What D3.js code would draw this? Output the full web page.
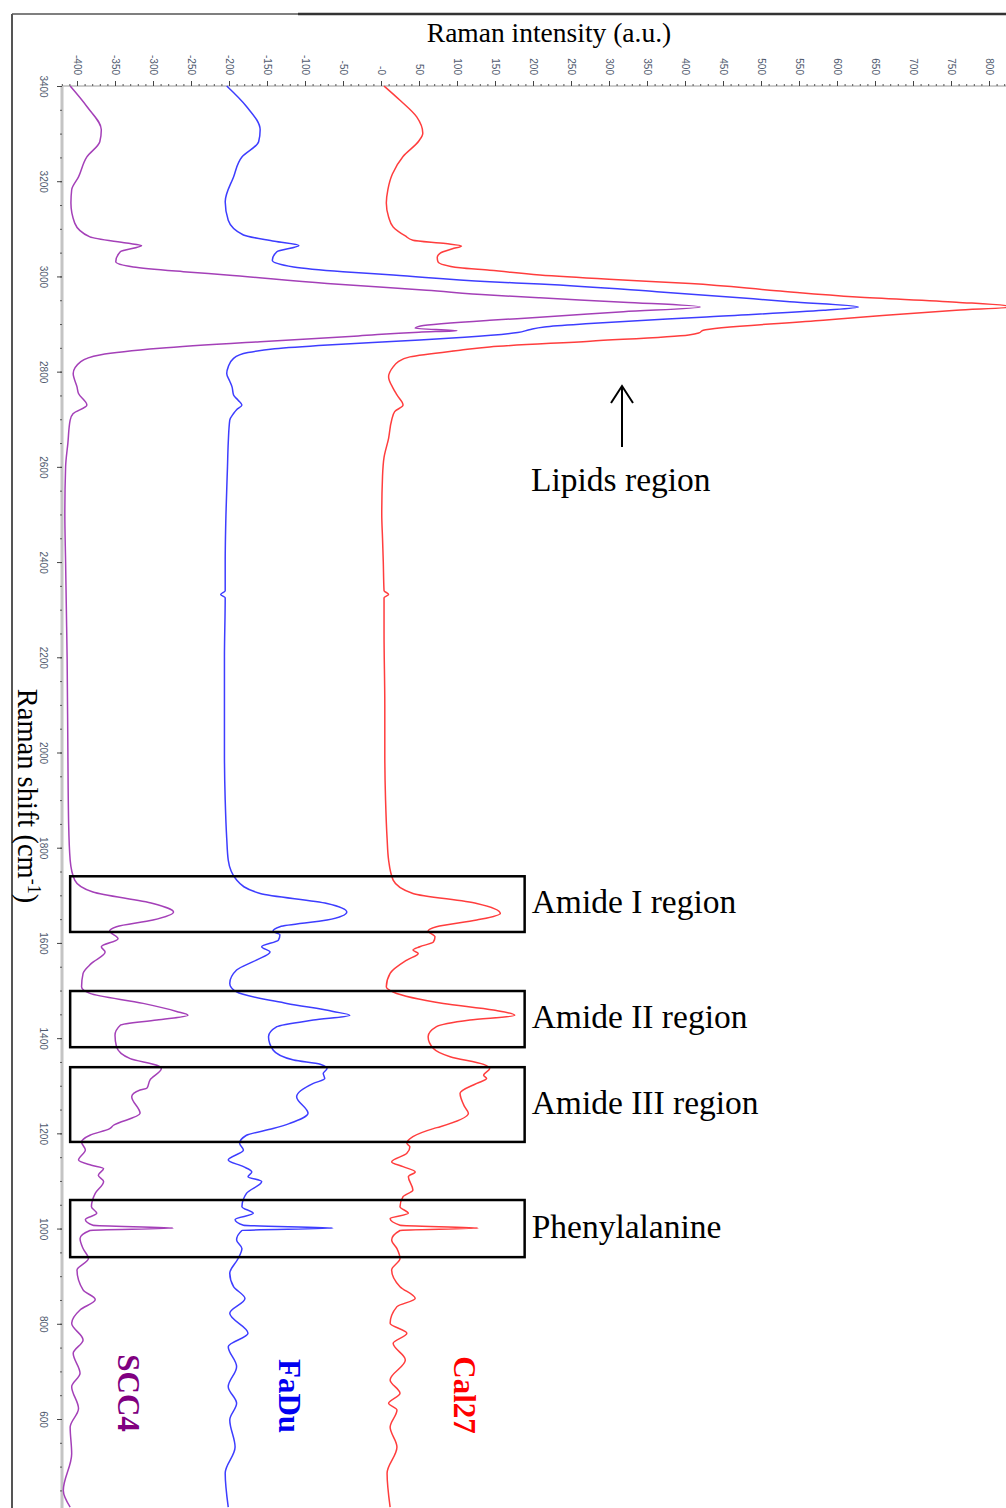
<!DOCTYPE html>
<html>
<head>
<meta charset="utf-8">
<script src="https://cdn.jsdelivr.net/npm/d3@7"></script>
<style>
  body { margin: 0; background: #fff; }
  svg { display: block; }
</style>
</head>
<body>
<div id="chart"></div>
<script>
// Raman spectra drawn on their side: shift runs down the page, intensity across

const intensityTicks = d3.range(-400, 801, 50);
const intensityTickLabels = ["-400", "-350", "-300", "-250", "-200", "-150", "-100", "-50", "-0",
  "50", "100", "150", "200", "250", "300", "350", "400", "450", "500", "550", "600", "650", "700", "750", "800"];
const shiftTicks = [3400, 3200, 3000, 2800, 2600, 2400, 2200, 2000, 1800, 1600, 1400, 1200, 1000, 800, 600];

// [Raman shift (cm-1), plotted intensity (a.u.)]
const scc4 = [
  [3400, -409], [3357, -387], [3308, -368], [3283, -370], [3251, -387], [3209, -398], [3182, -407],
  [3154, -408], [3112, -403], [3083, -383], [3070, -335], [3065, -315], [3052, -343], [3031, -349],
  [3020, -326], [3010, -260], [3003, -203], [2985, -71], [2971, 60], [2961, 143], [2955, 209],
  [2946, 319], [2936, 420], [2926, 319], [2914, 209], [2908, 143], [2896, 52], [2891, 45], [2886, 100],
  [2883, 50], [2875, -30], [2863, -159], [2849, -291], [2835, -370], [2821, -395], [2796, -405],
  [2768, -400], [2754, -398], [2730, -387], [2712, -405], [2698, -409], [2650, -412], [2600, -415],
  [2500, -416], [2400, -415], [2300, -414], [2200, -413], [2000, -412], [1850, -411], [1774, -409],
  [1732, -403], [1707, -379], [1683, -300], [1665, -273], [1648, -300], [1634, -348], [1625, -357],
  [1609, -346], [1592, -368], [1581, -363], [1557, -381], [1536, -392], [1508, -394], [1494, -383],
  [1473, -313], [1456, -269], [1448, -254], [1438, -295], [1427, -343], [1406, -350], [1382, -348],
  [1357, -330], [1343, -295], [1336, -289], [1312, -304], [1295, -308], [1291, -317], [1277, -328],
  [1242, -317], [1217, -352], [1210, -357], [1196, -383], [1182, -394], [1165, -389], [1144, -398],
  [1133, -381], [1126, -365], [1112, -372], [1099, -365], [1074, -376], [1046, -381], [1032, -374],
  [1019, -389], [1007, -379], [1001, -273], [996, -383], [979, -396], [958, -392], [937, -385],
  [913, -400], [871, -392], [851, -376], [829, -396], [801, -407], [766, -392], [738, -405],
  [696, -396], [668, -407], [622, -398], [583, -409], [527, -407], [450, -418], [415, -409]
];

const fadu = [
  [3400, -203], [3357, -177], [3308, -159], [3283, -161], [3251, -183], [3209, -194], [3157, -205],
  [3118, -201], [3087, -181], [3074, -140], [3065, -108], [3052, -137], [3034, -143], [3020, -115],
  [3010, -50], [3003, 16], [2989, 143], [2984, 209], [2968, 363], [2947, 538], [2936, 628],
  [2929, 582], [2915, 428], [2901, 275], [2894, 215], [2888, 195], [2882, 180], [2872, 110],
  [2864, 20], [2856, -70], [2848, -140], [2840, -175], [2828, -194], [2810, -201], [2796, -203],
  [2780, -199], [2768, -196], [2751, -194], [2740, -188], [2730, -183], [2720, -190], [2712, -194],
  [2698, -199], [2650, -201], [2600, -202], [2500, -204], [2400, -205], [2340, -205], [2332, -211],
  [2325, -205], [2200, -206], [2000, -206], [1900, -205], [1820, -203], [1774, -201],
  [1732, -190], [1704, -159], [1683, -71], [1665, -45], [1648, -71], [1634, -133], [1625, -142],
  [1617, -133], [1606, -135], [1592, -157], [1581, -146], [1564, -164], [1543, -190], [1515, -199],
  [1497, -190], [1473, -124], [1456, -63], [1448, -41], [1438, -89], [1424, -137], [1403, -148],
  [1375, -142], [1354, -115], [1345, -80], [1336, -71], [1326, -76], [1315, -74], [1305, -89],
  [1277, -111], [1242, -96], [1221, -120], [1210, -142], [1196, -177], [1179, -186], [1165, -181],
  [1144, -201], [1130, -181], [1119, -170], [1109, -175], [1099, -157], [1074, -177], [1046, -183],
  [1032, -168], [1019, -192], [1007, -181], [1001, -63], [996, -183], [976, -190], [958, -183],
  [937, -188], [906, -199], [878, -194], [853, -179], [822, -199], [780, -175], [752, -201],
  [710, -190], [668, -201], [633, -190], [598, -199], [541, -192], [486, -205], [415, -201]
];

const cal27 = [
  [3400, 4], [3370, 25], [3335, 47], [3301, 55], [3285, 50], [3252, 29], [3215, 15], [3182, 9],
  [3154, 7], [3125, 10], [3104, 16], [3085, 32], [3076, 42], [3069, 85], [3064, 106], [3058, 94],
  [3049, 78], [3040, 74], [3031, 75], [3018, 104], [3013, 143], [3003, 209], [2994, 300], [2985, 407],
  [2970, 520], [2957, 626], [2946, 757], [2936, 832], [2929, 757], [2918, 660], [2908, 582],
  [2887, 424], [2881, 418], [2877, 405], [2864, 275], [2852, 143], [2845, 104], [2831, 38],
  [2820, 22], [2810, 16], [2789, 10], [2765, 16], [2751, 21], [2730, 29], [2716, 18], [2698, 14],
  [2660, 10], [2620, 4], [2580, 2], [2500, 1], [2450, 2], [2400, 3], [2340, 4], [2332, 10],
  [2325, 4], [2250, 4], [2100, 5], [2000, 5], [1900, 6], [1820, 8], [1774, 10],
  [1732, 16], [1704, 42], [1683, 126], [1662, 157], [1648, 126], [1634, 73], [1625, 62],
  [1613, 71], [1602, 69], [1592, 51], [1585, 42], [1578, 49], [1564, 34], [1536, 12], [1508, 7],
  [1497, 16], [1473, 82], [1459, 148], [1448, 176], [1438, 117], [1424, 73], [1403, 62],
  [1378, 69], [1361, 91], [1345, 135], [1336, 143], [1322, 135], [1315, 139], [1305, 126],
  [1284, 104], [1256, 110], [1242, 115], [1214, 78], [1210, 69], [1193, 42], [1179, 34],
  [1172, 38], [1158, 34], [1140, 14], [1130, 29], [1119, 45], [1109, 36], [1081, 42], [1067, 29],
  [1046, 25], [1032, 36], [1021, 12], [1007, 25], [1001, 128], [996, 25], [976, 14], [958, 21],
  [937, 25], [913, 14], [878, 25], [853, 45], [836, 21], [801, 12], [780, 34], [759, 16],
  [724, 32], [682, 12], [654, 25], [633, 10], [619, 21], [583, 12], [541, 21], [486, 8], [415, 12]
];

const regionNames = ["Amide I region", "Amide II region", "Amide III region", "Phenylalanine"];
const regionFrom = [1740, 1499, 1339, 1060];
const regionTo = [1623, 1381, 1182, 940];
const regionLow = -409;
const regionHigh = 189;

let w = 1006;
let h = 1508;

let svg = d3.select("#chart")
            .append("svg")
            .attr("width", w)
            .attr("height", h);

let x = d3.scaleLinear().domain([-400, 800]).range([77, 989]);
let y = d3.scaleLinear().domain([3400, 600]).range([86, 1419]);

// outer frame
svg.append("line").attr("x1", 12).attr("y1", 14).attr("x2", 298).attr("y2", 14)
    .attr("stroke", "#555").attr("stroke-width", 1.5);
svg.append("line").attr("x1", 298).attr("y1", 14).attr("x2", w).attr("y2", 14)
    .attr("stroke", "#333").attr("stroke-width", 2.5);
svg.append("line").attr("x1", 12).attr("y1", 14).attr("x2", 12).attr("y2", h)
    .attr("stroke", "#555").attr("stroke-width", 2);

// axis lines
svg.append("line").attr("x1", 62).attr("y1", 86).attr("x2", w).attr("y2", 86)
    .attr("stroke", "#bbb").attr("stroke-width", 1.5);
svg.append("line").attr("x1", 62).attr("y1", 86).attr("x2", 62).attr("y2", h)
    .attr("stroke", "#c4c4c4").attr("stroke-width", 3);

// top (intensity) axis
svg.append("g")
    .attr("transform", "translate(0,86)")
    .call(d3.axisTop(x).tickValues(d3.range(-420, 830, 10)).tickSize(2).tickFormat(""))
    .call(g => g.select(".domain").remove())
    .call(g => g.selectAll("line").attr("stroke", "#555"));

svg.append("g")
    .attr("transform", "translate(0,86)")
    .call(d3.axisTop(x).tickValues(intensityTicks).tickSize(5).tickFormat((d, i) => intensityTickLabels[i]))
    .call(g => g.select(".domain").remove())
    .call(g => g.selectAll("line").attr("stroke", "#444"))
    .call(g => g.selectAll("text")
        .attr("transform", "rotate(90)")
        .attr("x", -11)
        .attr("y", 0)
        .attr("dy", null)
        .attr("text-anchor", "end")
        .attr("dominant-baseline", "central")
        .attr("fill", "#4f5a6e")
        .style("font", "10px 'Liberation Sans', Arial, sans-serif"));

// left (shift) axis
svg.append("g")
    .attr("transform", "translate(62,0)")
    .call(d3.axisLeft(y).tickValues(d3.range(3400, 400, -50)).tickSize(2).tickFormat(""))
    .call(g => g.select(".domain").remove())
    .call(g => g.selectAll("line").attr("stroke", "#555"));

svg.append("g")
    .attr("transform", "translate(62,0)")
    .call(d3.axisLeft(y).tickValues(shiftTicks).tickSize(5).tickFormat(d3.format("d")))
    .call(g => g.select(".domain").remove())
    .call(g => g.selectAll("line").attr("stroke", "#444"))
    .call(g => g.selectAll("text")
        .attr("transform", "rotate(90)")
        .attr("x", 0)
        .attr("y", 19)
        .attr("dy", null)
        .attr("text-anchor", "middle")
        .attr("dominant-baseline", "central")
        .attr("fill", "#4f5a6e")
        .style("font", "10px 'Liberation Sans', Arial, sans-serif"));

// axis titles
svg.append("text")
    .text("Raman intensity (a.u.)")
    .attr("x", 549)
    .attr("y", 42)
    .attr("text-anchor", "middle")
    .style("font", "27.5px 'Liberation Serif', 'Times New Roman', serif");

let yTitle = svg.append("text")
    .attr("transform", "translate(18,796) rotate(90)")
    .attr("text-anchor", "middle")
    .style("font", "28.5px 'Liberation Serif', 'Times New Roman', serif");
yTitle.append("tspan").text("Raman shift (cm");
yTitle.append("tspan").text("-1").attr("dy", -10).style("font-size", "18px");
yTitle.append("tspan").text(")").attr("dy", 10);

// spectra
let line = d3.line()
    .x(d => x(d[1]))
    .y(d => y(d[0]))
    .curve(d3.curveMonotoneY);

let series = [
    {name: "SCC4", data: scc4, stroke: "#a440b8", label: "#800080", lx: 128, ly: 1393},
    {name: "FaDu", data: fadu, stroke: "#3d3dff", label: "#0000f0", lx: 289, ly: 1396},
    {name: "Cal27", data: cal27, stroke: "#ff3d3d", label: "#ff0000", lx: 464, ly: 1395}
];

series.forEach(s => {
    svg.append("path")
        .datum(s.data)
        .attr("d", line)
        .attr("fill", "none")
        .attr("stroke", s.stroke)
        .attr("stroke-width", 1.5);

    svg.append("text")
        .text(s.name)
        .attr("transform", "translate(" + s.lx + "," + s.ly + ") rotate(90)")
        .attr("text-anchor", "middle")
        .attr("dominant-baseline", "central")
        .attr("fill", s.label)
        .style("font", "bold 31px 'Liberation Serif', 'Times New Roman', serif");
});

// highlighted regions
regionNames.forEach((name, i) => {
    let top = y(regionFrom[i]);
    let bottom = y(regionTo[i]);
    svg.append("rect")
        .attr("x", x(regionLow))
        .attr("y", top)
        .attr("width", x(regionHigh) - x(regionLow))
        .attr("height", bottom - top)
        .attr("fill", "none")
        .attr("stroke", "#000")
        .attr("stroke-width", 2.5);

    svg.append("text")
        .text(name)
        .attr("x", x(regionHigh) + 7)
        .attr("y", (top + bottom) / 2 + 9)
        .style("font", "33.5px 'Liberation Serif', 'Times New Roman', serif");
});

// lipids arrow
svg.append("line").attr("x1", 622).attr("y1", 447).attr("x2", 622).attr("y2", 386)
    .attr("stroke", "#000").attr("stroke-width", 2);
svg.append("path").attr("d", "M611,403 L622,386 L633,403")
    .attr("fill", "none").attr("stroke", "#000").attr("stroke-width", 2);
svg.append("text")
    .text("Lipids region")
    .attr("x", 531)
    .attr("y", 491)
    .style("font", "33.5px 'Liberation Serif', 'Times New Roman', serif");
</script>
</body>
</html>
